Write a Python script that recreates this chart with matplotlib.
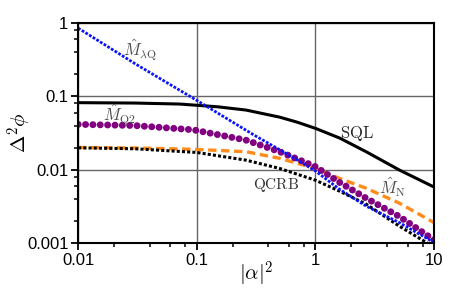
import matplotlib.pyplot as plt
from matplotlib.ticker import LogLocator, NullFormatter, FixedLocator, FixedFormatter

plt.rcParams['mathtext.fontset'] = 'cm'
plt.rcParams['font.family'] = 'sans-serif'
plt.rcParams['font.sans-serif'] = ['Liberation Sans']

# |alpha|^2 values and Delta^2 phi
x_sql = [0.01, 0.03, 0.072, 0.15, 0.26, 0.5, 0.7, 1, 1.6, 2.67, 5.1, 10]
sql = [0.082, 0.081, 0.0785, 0.072, 0.065, 0.052, 0.0445, 0.0366, 0.027, 0.0176, 0.0099, 0.0058]

x_lq = [0.01, 0.03, 0.1, 0.3, 0.6, 1, 1.6, 2.67, 5.1, 10]
m_lq = [0.85, 0.28, 0.088, 0.03, 0.0158, 0.0096, 0.0054, 0.0032, 0.0019, 0.00102]

x_q2 = [0.01, 0.03, 0.093, 0.26, 0.5, 1, 1.6, 2.67, 5.1, 10]
m_q2 = [0.0415, 0.040, 0.035, 0.0253, 0.0176, 0.011, 0.0067, 0.0041, 0.0023, 0.0011]

x_n = [0.01, 0.03, 0.093, 0.26, 0.5, 1, 1.6, 2.67, 5.1, 10]
m_n = [0.0201, 0.0198, 0.019, 0.0176, 0.0143, 0.0104, 0.0076, 0.0056, 0.0035, 0.0019]

x_qc = [0.01, 0.03, 0.1, 0.26, 0.5, 1, 1.6, 2.67, 5.1, 10]
qcrb = [0.0199, 0.0193, 0.0172, 0.0135, 0.0104, 0.0072, 0.0051, 0.0034, 0.0017, 0.00088]

fig = plt.figure(figsize=(4.57, 2.94), dpi=100)
ax = fig.add_axes([0.171, 0.173, 0.779, 0.749])

ax.plot(x_sql, sql, color='black', lw=2.2)
ax.plot(x_n, m_n, color='#ff8c1a', lw=2.4, dashes=(2.5, 1.4))
ax.plot(x_qc, qcrb, color='black', lw=2.2, ls=(0, (1, 0.7)))
ax.plot(x_q2, m_q2, color='#800080', lw=5, ls=(0, (0.01, 1.05)), dash_capstyle='round')
ax.plot(x_lq, m_lq, color='#0a14f5', lw=2.0, ls=(0, (1, 0.55)))

ax.set_xscale('log')
ax.set_yscale('log')
ax.set_xlim(0.01, 10)
ax.set_ylim(0.001, 1)

ax.xaxis.set_major_locator(FixedLocator([0.01, 0.1, 1, 10]))
ax.xaxis.set_major_formatter(FixedFormatter(['0.01', '0.1', '1', '10']))
ax.yaxis.set_major_locator(FixedLocator([0.001, 0.01, 0.1, 1]))
ax.yaxis.set_major_formatter(FixedFormatter(['0.001', '0.01', '0.1', '1']))
ax.xaxis.set_minor_locator(LogLocator(base=10, subs=(2, 4, 6, 8)))
ax.yaxis.set_minor_locator(LogLocator(base=10, subs=(2, 4, 6, 8)))
ax.xaxis.set_minor_formatter(NullFormatter())
ax.yaxis.set_minor_formatter(NullFormatter())
ax.tick_params(which='major', direction='out', length=5, width=1.3, labelsize=12, pad=2)
ax.tick_params(which='minor', direction='out', length=3, width=1.1)

ax.grid(True, which='major', color='0.4', lw=1.0)
for s in ax.spines.values():
    s.set_linewidth(1.5)

ax.set_xlabel(r'$|\alpha|^2$', fontsize=15)
ax.set_ylabel(r'$\Delta^2\phi$', fontsize=15)
ax.xaxis.set_label_coords(0.5, -0.075)
ax.yaxis.set_label_coords(-0.125, 0.5)

ax.text(0.0332, 0.43, r'$\hat{M}_{\lambda\mathrm{Q}}$', fontsize=12, color='0.3', ha='center', va='center')
ax.text(0.0225, 0.056, r'$\hat{M}_{\mathrm{Q2}}$', fontsize=12, color='0.3', ha='center', va='center')
ax.text(2.25, 0.0316, r'$\mathrm{SQL}$', fontsize=12, color='0.15', ha='center', va='center')
ax.text(0.47, 0.0062, r'$\mathrm{QCRB}$', fontsize=11, color='0.2', ha='center', va='center')
ax.text(4.44, 0.0058, r'$\hat{M}_{\mathrm{N}}$', fontsize=12, color='0.3', ha='center', va='center')

fig.savefig('out.png', dpi=100)
